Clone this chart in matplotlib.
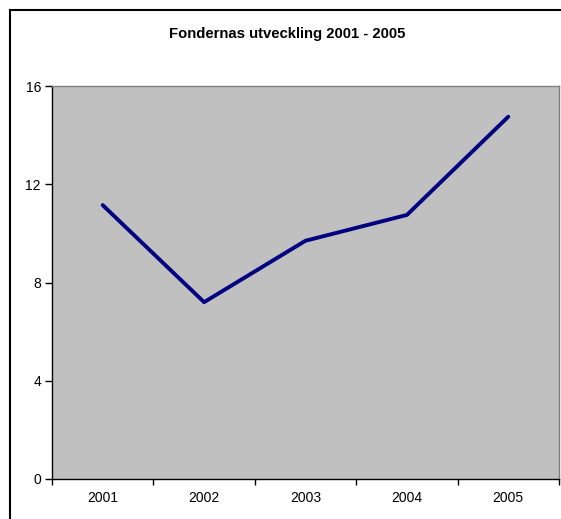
import matplotlib
matplotlib.use("Agg")
from matplotlib import pyplot as plt
from matplotlib.lines import Line2D

years = ["2001", "2002", "2003", "2004", "2005"]
values = [11.15, 7.2, 9.7, 10.75, 14.75]
yticks = [0, 4, 8, 12, 16]

W, H = 561, 519
fig = plt.figure(figsize=(W / 100, H / 100), dpi=100)
fig.patch.set_facecolor("white")
plt.rcParams["font.family"] = ["Liberation Sans", "DejaVu Sans"]

# plot area in pixels: left 52, right 559, top 86, bottom 479
ax = fig.add_axes([52 / W, 1 - 479 / H, (559 - 52) / W, (479 - 86) / H])
ax.set_facecolor("#c0c0c0")

x = list(range(len(years)))
ax.plot(x, values, color="#000080", linewidth=2.8, solid_capstyle="round",
        solid_joinstyle="round")

ax.set_xlim(-0.5, len(years) - 0.5)
ax.set_ylim(0, 16)
ax.set_yticks(yticks)
ax.set_yticklabels([str(v) for v in yticks], fontsize=10)

# category labels in the middle, tick marks between categories
ax.set_xticks([i - 0.5 for i in range(len(years) + 1)])
ax.set_xticklabels([])
ax.set_xticks(x, minor=True)
ax.set_xticklabels(years, minor=True, fontsize=10)
ax.tick_params(axis="x", which="minor", length=0, pad=9)
ax.tick_params(axis="x", which="major", length=4, width=1, direction="out")
ax.tick_params(axis="y", length=5, width=1, direction="out", pad=3)

for side in ["left", "bottom"]:
    ax.spines[side].set_color("black")
    ax.spines[side].set_linewidth(1)
for side in ["top", "right"]:
    ax.spines[side].set_color("#808080")
    ax.spines[side].set_linewidth(1)

fig.text(287 / W, 1 - 34 / H, "Fondernas utveckling 2001 - 2005",
         ha="center", va="center", fontsize=10.7, fontweight="bold")

# outer chart border (only top and left visible)
fig.add_artist(Line2D([10 / W, 10 / W], [0, 1 - 10 / H], color="black",
                      linewidth=1.5, transform=fig.transFigure))
fig.add_artist(Line2D([10 / W, 1], [1 - 10 / H, 1 - 10 / H], color="black",
                      linewidth=1.5, transform=fig.transFigure))

fig.savefig("out.png", dpi=100)
